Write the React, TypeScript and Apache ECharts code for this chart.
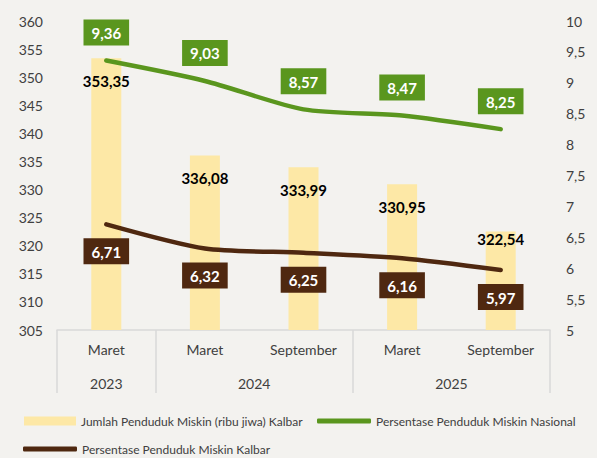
import { useEffect, useRef } from 'react';
import * as echarts from 'echarts';

const months = ['Maret', 'Maret', 'September', 'Maret', 'September'];
const years = ['2023', '2024', '2025'];
const yearSpans = [1, 2, 2];
const jumlah = [353.35, 336.08, 333.99, 330.95, 322.54];
const nasional = [9.36, 9.03, 8.57, 8.47, 8.25];
const kalbar = [6.71, 6.32, 6.25, 6.16, 5.97];
const leftTicks = { min: 305, max: 360, interval: 5 };
const rightTicks = { min: 5, max: 10, interval: 0.5 };

const NAME_BAR = 'Jumlah Penduduk Miskin (ribu jiwa) Kalbar';
const NAME_NAS = 'Persentase Penduduk Miskin Nasional';
const NAME_KAL = 'Persentase Penduduk Miskin Kalbar';

const FONT = 'Lato';
const comma = (v: number) => String(v).replace('.', ',');
const fmt2 = (v: number) => v.toFixed(2).replace('.', ',');

export default function App() {
  const ref = useRef<HTMLDivElement>(null);
  useEffect(() => {
    if (!ref.current) return;
    const chart = echarts.init(ref.current, null, { renderer: 'svg' });
    const bounds: number[] = [0];
    yearSpans.forEach((s) => bounds.push(bounds[bounds.length - 1] + s));
    const centers = years.map((_, i) => (bounds[i] + bounds[i + 1]) / 2);
    const GREEN = '#5a961e';
    const BROWN = '#4f2810';
    const BAR = '#fde8a6';
    const legendText = { fontSize: 12, color: '#404040', fontFamily: FONT, lineHeight: 14 };
    chart.setOption({
      animation: false,
      backgroundColor: '#f3f2ef',
      textStyle: { fontFamily: FONT },
      grid: { left: 57, right: 47, top: 21, bottom: 128 },
      legend: [
        {
          data: [NAME_BAR], left: 24, top: 414, padding: 0, icon: 'rect', itemWidth: 52, itemHeight: 9,
          textStyle: legendText,
        },
        {
          data: [NAME_NAS], left: 317, top: 414, padding: 0, icon: 'roundRect', itemWidth: 54, itemHeight: 5,
          textStyle: legendText,
        },
        {
          data: [NAME_KAL], left: 23, top: 442, padding: 0, icon: 'roundRect', itemWidth: 54, itemHeight: 5,
          textStyle: legendText,
        },
      ],
      xAxis: [
        {
          type: 'category',
          data: months,
          axisLine: { show: true, lineStyle: { color: '#d9d9d9', width: 1.5 } },
          axisTick: { show: false },
          axisLabel: { color: '#404040', fontSize: 14, margin: 12, fontFamily: FONT },
        },
        {
          type: 'value',
          min: 0,
          max: bounds[bounds.length - 1],
          position: 'bottom',
          axisLine: { show: false },
          splitLine: { show: false },
          axisTick: {
            show: true, length: 63, customValues: bounds,
            lineStyle: { color: '#d9d9d9', width: 1.5 },
          },
          axisLabel: {
            show: true, customValues: centers, margin: 46, color: '#404040', fontSize: 14, fontFamily: FONT,
            formatter: (v: number) => years[centers.indexOf(v)] ?? '',
          },
        },
      ],
      yAxis: [
        {
          type: 'value', ...leftTicks,
          axisLine: { show: false }, axisTick: { show: false }, splitLine: { show: false },
          axisLabel: { color: '#404040', fontSize: 14, margin: 14, fontFamily: FONT },
        },
        {
          type: 'value', ...rightTicks, position: 'right',
          axisLine: { show: false }, axisTick: { show: false }, splitLine: { show: false },
          axisLabel: { color: '#404040', fontSize: 14, margin: 16, formatter: comma, fontFamily: FONT },
        },
      ],
      series: [
        {
          name: NAME_BAR,
          type: 'bar',
          xAxisIndex: 0,
          yAxisIndex: 0,
          barWidth: 30,
          itemStyle: { color: BAR },
          data: jumlah.map((v, i) =>
            i === jumlah.length - 1
              ? { value: v, label: { position: 'insideTop', distance: 0 } }
              : v,
          ),
          label: {
            show: true, position: 'insideTop', distance: 15, color: '#000', fontWeight: 'bold',
            fontSize: 15, fontFamily: FONT, formatter: (p: any) => fmt2(p.value),
          },
          z: 1,
        },
        {
          name: NAME_NAS,
          type: 'line',
          xAxisIndex: 0,
          yAxisIndex: 1,
          data: nasional,
          smooth: 0.25,
          symbol: 'circle',
          symbolSize: 2,
          lineStyle: { color: GREEN, width: 4.5, cap: 'round' },
          itemStyle: { color: GREEN },
          label: {
            show: true, position: 'top', distance: 14, color: '#fff', fontWeight: 'bold', fontSize: 15,
            fontFamily: FONT, backgroundColor: GREEN, padding: [6, 8, 5, 8],
            formatter: (p: any) => fmt2(p.value),
          },
          z: 3,
        },
        {
          name: NAME_KAL,
          type: 'line',
          xAxisIndex: 0,
          yAxisIndex: 1,
          data: kalbar,
          smooth: 0.25,
          symbol: 'circle',
          symbolSize: 2,
          lineStyle: { color: BROWN, width: 4.5, cap: 'round' },
          itemStyle: { color: BROWN },
          label: {
            show: true, position: 'bottom', distance: 13, color: '#fff', fontWeight: 'bold', fontSize: 15,
            fontFamily: FONT, backgroundColor: BROWN, padding: [6, 8, 5, 8],
            formatter: (p: any) => fmt2(p.value),
          },
          z: 3,
        },
      ],
    });
    return () => chart.dispose();
  }, []);
  return (
    <div
      ref={ref}
      style={{ position: 'fixed', left: 0, top: 0, width: 597, height: 458 }}
    />
  );
}
